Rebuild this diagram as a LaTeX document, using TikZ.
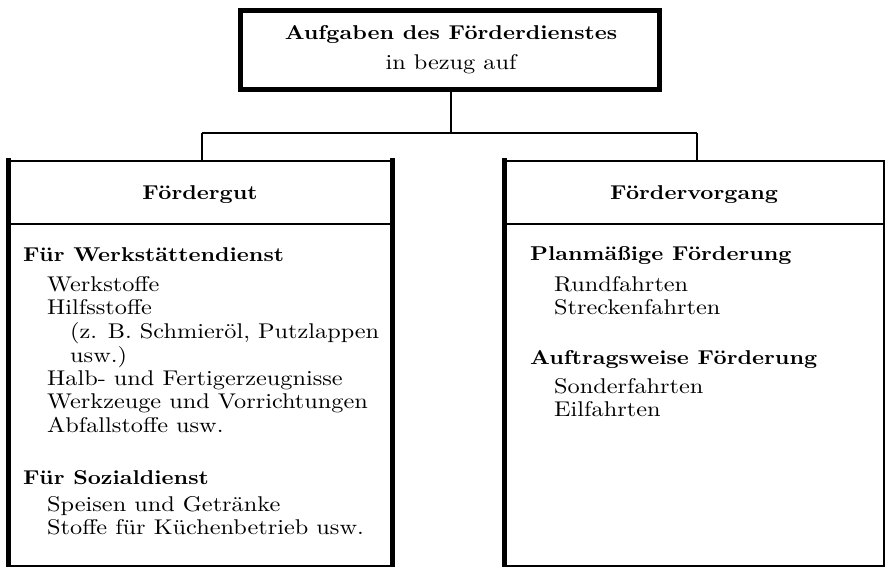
\documentclass[tikz,border=0pt]{standalone}
\usepackage{fontspec}
\setmainfont{lmroman10-regular.otf}[BoldFont=lmroman10-bold.otf, FakeStretch=1.14]
\begin{document}
\begin{tikzpicture}[x=1pt,y=-1pt,
  txt/.style={inner sep=0pt,font=\fontsize{21.3}{24}\selectfont},
  bf/.style={inner sep=0pt,font=\fontsize{20}{23.4}\selectfont\bfseries},
  heavy/.style={line width=5pt},
  thin/.style={line width=1.8pt},
  conn/.style={line width=2.6pt}]
\useasboundingbox (0,0) rectangle (886,569);

% top box
\draw[heavy] (240,10.5) rectangle (659,89.5);
\node[bf,anchor=base] (title) at (451,40) {Aufgaben des Förderdienstes};
\node[txt,anchor=base] (sub) at (451,70) {in bezug auf};
\coordinate (topbot) at (451,92);

% lower boxes
\coordinate (lbox) at (202,161);
\coordinate (rbox) at (697,161);
\draw[thin] (8,161) rectangle (392,566);
\draw[thin] (8,224) -- (392,224);
\draw[heavy] (8,158.5) -- (8,567);
\draw[heavy] (392,158.5) -- (392,567);

\draw[thin] (504,161) rectangle (884,566);
\draw[thin] (504,224) -- (884,224);
\draw[heavy] (504,158.5) -- (504,567);

% connectors
\coordinate (fork) at (451,133);
\draw[conn] (topbot) -- (fork);
\draw[thin] (202,133) -- (697,133);
\draw[thin] (202,133) -- (lbox);
\draw[thin] (697,133) -- (rbox);

% left column
\node[bf,anchor=base] (lh) at (200,200) {Fördergut};
\node[bf,anchor=base west] (l1) at (23,262) {Für Werkstättendienst};
\node[txt,anchor=base west] (l2) at (47,292) {Werkstoffe};
\node[txt,anchor=base west] (l3) at (47,315) {Hilfsstoffe};
\node[txt,anchor=base west] (l4) at (70,338) {(z. B. Schmieröl, Putzlappen};
\node[txt,anchor=base west] (l5) at (70,362) {usw.)};
\node[txt,anchor=base west] (l6) at (47,385) {Halb- und Fertigerzeugnisse};
\node[txt,anchor=base west] (l7) at (47,408) {Werkzeuge und Vorrichtungen};
\node[txt,anchor=base west] (l8) at (47,432) {Abfallstoffe usw.};
\node[bf,anchor=base west] (l9) at (23,484) {Für Sozialdienst};
\node[txt,anchor=base west] (l10) at (47,511) {Speisen und Getränke};
\node[txt,anchor=base west] (l11) at (47,534) {Stoffe für Küchenbetrieb usw.};

% right column
\node[bf,anchor=base] (rh) at (694,200) {Fördervorgang};
\node[bf,anchor=base west] (r1) at (530,261) {Planmäßige Förderung};
\node[txt,anchor=base west] (r2) at (554,291) {Rundfahrten};
\node[txt,anchor=base west] (r3) at (554,314) {Streckenfahrten};
\node[bf,anchor=base west] (r4) at (530,364) {Auftragsweise Förderung};
\node[txt,anchor=base west] (r5) at (554,393) {Sonderfahrten};
\node[txt,anchor=base west] (r6) at (554,416) {Eilfahrten};
\end{tikzpicture}
\end{document}
